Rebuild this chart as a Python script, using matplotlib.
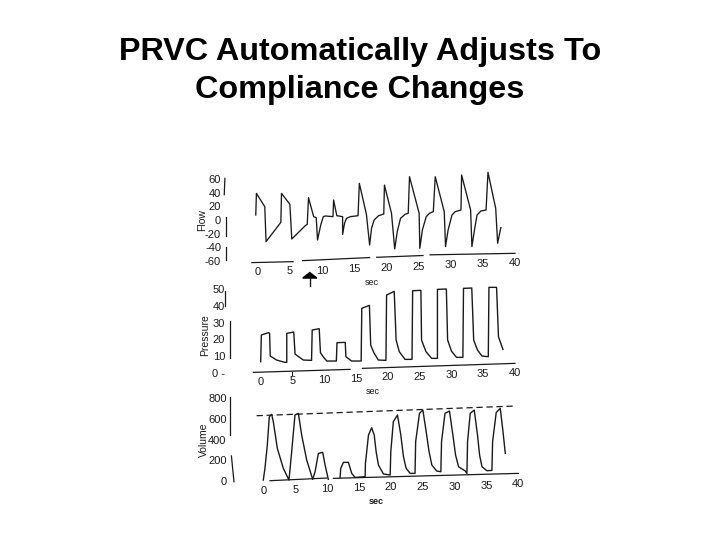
import matplotlib
matplotlib.use('Agg')
import matplotlib.pyplot as plt
import numpy as np

plt.rcParams['font.family'] = ['Liberation Sans', 'DejaVu Sans']
plt.rcParams['axes.unicode_minus'] = False

title = 'PRVC Automatically Adjusts To\nCompliance Changes'

flow_t = [-0.3, -0.2, 1.1, 1.3, 3.6, 3.7, 5.0, 5.3, 7.4, 7.7, 7.9, 8.7, 9.1, 9.3, 9.8, 10.2, 10.5,
          11.7, 11.8, 12.3, 13.2, 13.2, 13.5, 13.8, 14.4, 15.6, 15.8, 16.9, 17.4, 17.7, 18.1, 18.8, 19.6,
          19.7, 20.8, 21.3, 21.7, 22.2, 22.9, 23.4, 23.6, 25.1, 25.2, 25.6, 26.2, 26.7, 27.3, 27.6,
          29.0, 29.2, 29.6, 30.2, 30.7, 31.6, 31.7, 33.1, 33.3, 33.7, 34.1, 34.7, 35.5, 35.8,
          37.0, 37.3, 37.8]
flow_v = [7.3, 39, 19.5, -31.7, -3.4, 39, 23, -27.8, -8.3, -6.3, 32.7, 4.9, 3.4, -29.3, -7.3, 4.9, 5.9,
          4.9, 29.3, 6.3, 4.9, -21, -4.9, 2.4, 4.9, 6.3, 53.7, 8.3, -36.6, -12, 0, 6.3, 8.8,
          51.2, 9.8, -42.4, -17, 2.4, 8.3, 9.8, 63.4, 9.8, -41.5, -14.6, 4.9, 9.8, 12.2, 63.4,
          12.2, -39, -14.6, 7.3, 12.2, 14.6, 65.9, 14.6, -39, -14.6, 7.3, 13.2, 14.6, 69.8,
          17, -34, -11]

pres_t = [0, 0.1, 1.2, 1.4, 1.5, 2.5, 3.8, 4.1, 4.1, 5.2, 5.4, 6.7, 8.0, 8.1, 9.2, 9.4, 9.9, 10.4, 11.9,
          12.0, 13.3, 13.4, 14.3, 15.8, 15.9, 17.1, 17.3, 17.8, 18.5, 19.7, 19.8, 21.0, 21.3, 21.8, 22.7, 23.8,
          23.9, 25.2, 25.3, 26.0, 26.9, 27.8, 27.8, 29.2, 29.4, 30.0, 30.8, 31.8, 31.9, 33.2, 33.5, 34.1, 34.8, 35.8,
          35.9, 37.1, 37.4, 38.1]
pres_v = [6.6, 22.6, 24, 23.6, 10, 7.6, 6.2, 6.2, 23.6, 24.4, 11.2, 7.6, 7.4, 25.6, 26.4, 12, 9.2, 7, 7,
          18, 18.2, 9.6, 7, 7, 38.6, 40.4, 16.6, 12, 7.6, 7.4, 46.6, 48.8, 19.6, 12.6, 8, 8,
          49.2, 49.4, 19.6, 12.6, 8.6, 8.6, 50, 50.2, 19.6, 13, 9.2, 9.2, 50.6, 50.8, 19.6, 13.6, 10, 9.6,
          51.2, 51.2, 21.6, 14]

vol_t = [0, 0.26, 0.63, 0.94, 1.31, 1.57, 2.2, 3.14, 4.03, 4.45, 4.97, 5.5, 6.02, 6.81, 7.75, 8.12,
         8.64, 9.32, 9.69, 10.2, np.nan, 12.04, 12.15, 12.57, 13.35, 13.87, 14.4, 15.97, 16.02,
         16.5, 17.0, 17.4, 17.7, 18.06, 18.85, 19.9, 20, 20.4, 21.05, 21.57, 21.99, 22.4, 23.04, 23.8, 23.9,
         24.5, 25.03, 25.55, 26.0, 26.44, 27.2, 27.85, 27.96, 28.5, 29.2, 29.74, 30.16, 30.63, 31.68, 31.94,
         32.04, 32.46, 33.09, 33.6, 33.93, 34.3, 35.08, 35.86, 35.97, 36.54, 37.17, 37.6, 37.96]
vol_v = [6, 120, 346, 621, 644, 573, 314, 120, 6, 282, 638, 654, 443, 200, 13, 87,
         265, 275, 152, 13, np.nan, 29, 120, 178, 178, 71, 32, 39, 168,
         443, 514, 443, 282, 152, 65, 55, 282, 573, 638, 443, 233, 120, 71, 71, 379,
         654, 686, 476, 282, 152, 94, 87, 379, 654, 676, 443, 249, 136, 94, 71,
         379, 654, 686, 443, 249, 136, 97, 100, 379, 663, 702, 476, 265]
vol_target_t = [-1.05, 39.5]
vol_target_v = [631, 725]

x_ticks = [0, 5, 10, 15, 20, 25, 30, 35, 40]
flow_lab_y = [-76.6, -74.6, -74.6, -72.2, -69.8, -68.3, -65.8, -64.4, -63.4]
pres_lab_y = [-5.4, -5, -4.4, -4, -2.8, -2.4, -1.4, -1, -0.4]
vol_lab_y = [-100, -91, -81, -68, -58, -58, -58, -52, -36]

flow_ticks = [60, 40, 20, 0, -20, -40, -60]
pres_ticks = [50, 40, 30, 20, 10, 0]
pres_tick_labels = ['50', '40', '30', '20', '10', '0 -']
vol_ticks = [800, 600, 400, 200, 0]

ink = '#1a1a1a'
small = ['Liberation Sans Narrow', 'Liberation Sans']
W, H = 720, 540

fig = plt.figure(figsize=(7.2, 5.4), dpi=100, facecolor='white')


def panel(px0, px40, py0, py_per_unit, ymin, ymax, left):
    # axes placed from the pixel position of t=0, t=40 and y=0
    per_sec = (px40 - px0) / 40
    x_left = px0 + left * per_sec
    x_right = px0 + 42 * per_sec
    y_top = py0 - ymax * py_per_unit
    y_bot = py0 - ymin * py_per_unit
    ax = fig.add_axes([x_left / W, 1 - y_bot / H, (x_right - x_left) / W, (y_bot - y_top) / H])
    ax.set_xlim(left, 42)
    ax.set_ylim(ymin, ymax)
    ax.patch.set_alpha(0)
    for s in ax.spines.values():
        s.set_visible(False)
    ax.set_xticks([])
    return ax


def dress(ax, yticks, lab_y, ylabel, ylabel_xy, axis_segs, yaxis_segs, sec_xy, sec_bold=False):
    ax.set_yticks(yticks)
    ax.tick_params(axis='y', length=0, pad=0, labelsize=8)
    for lab in ax.get_yticklabels():
        lab.set_family(small)
        lab.set_color(ink)
    for t, y in zip(x_ticks, lab_y):
        ax.text(t, y, str(t), fontsize=8, color=ink, ha='center', va='center', family=small, clip_on=False)
    for sx, sy in axis_segs:
        ax.plot(sx, sy, color=ink, lw=0.9, clip_on=False)
    for sx, sy in yaxis_segs:
        ax.plot(sx, sy, color=ink, lw=0.9, clip_on=False)
    ax.text(ylabel_xy[0], ylabel_xy[1], ylabel, rotation=90, fontsize=7.5, color=ink,
            ha='center', va='center', clip_on=False)
    ax.text(sec_xy[0], sec_xy[1], 'sec', fontsize=6.5, color=ink, ha='center', va='center',
            fontweight='bold' if sec_bold else 'normal', clip_on=False)


ax1 = panel(257.7, 515, 220, 0.683, -70, 75, -5.7)
ax1.plot(flow_t, flow_v, color=ink, lw=0.95, clip_on=False)
dress(ax1, flow_ticks, flow_lab_y, 'Flow', (-8.7, 0),
      [([-0.9, 5.5], [-62.4, -61]), ([7.0, 17.4], [-59.5, -55]),
       ([18.5, 25.7], [-54.6, -52]), ([26.8, 40], [-51, -48.8])],
      [([-5.1, -5.2], [61, 37]), ([-5.0, -5.0], [5, -24]), ([-5.0, -5.0], [-39, -58])],
      (17.7, -91))
# arrow marking the compliance change
ax1.fill([7.0, 8.1, 9.2], [-85, -77, -85], color='black', clip_on=False)
ax1.plot([8.1, 8.1], [-85, -96], color=ink, lw=1, clip_on=False)

ax2 = panel(260.7, 515, 372.7, 1.667, -3, 55, -5.6)
ax2.plot(pres_t, pres_v, color=ink, lw=1.0, clip_on=False)
dress(ax2, pres_ticks, pres_lab_y, 'Pressure', (-8.8, 22.6),
      [([-1.15, 14.05], [0.2, 2]), ([16, 40], [2.6, 5.6])],
      [([-5.6, -5.6], [49, 40]), ([-4.9, -4.9], [31, 9])],
      (17.6, -11.4))
ax2.set_yticklabels(pres_tick_labels)
ax2.plot([4.9, 4.9], [0.3, -1.5], color=ink, lw=0.8)

ax3 = panel(263.3, 518.3, 480.7, 0.103, -30, 830, -5.76)
ax3.plot(vol_t, vol_v, color=ink, lw=1.0, clip_on=False)
ax3.plot(vol_target_t, vol_target_v, color=ink, lw=0.9, ls=(0, (5, 3)), clip_on=False)
dress(ax3, vol_ticks, vol_lab_y, 'Volume', (-9.3, 400),
      [([1.05, 10], [0, 26]), ([11, 40], [23, 71])],
      [([-5.2, -5.2], [815, 440]), ([-5.0, -4.6], [240, -10])],
      (17.7, -204), sec_bold=True)

fig.text(0.4995, 0.8685, title, fontsize=23.3, color='black', ha='center', va='center',
         linespacing=1.32, fontweight='bold')

fig.savefig('out.png', dpi=100, facecolor='white')
